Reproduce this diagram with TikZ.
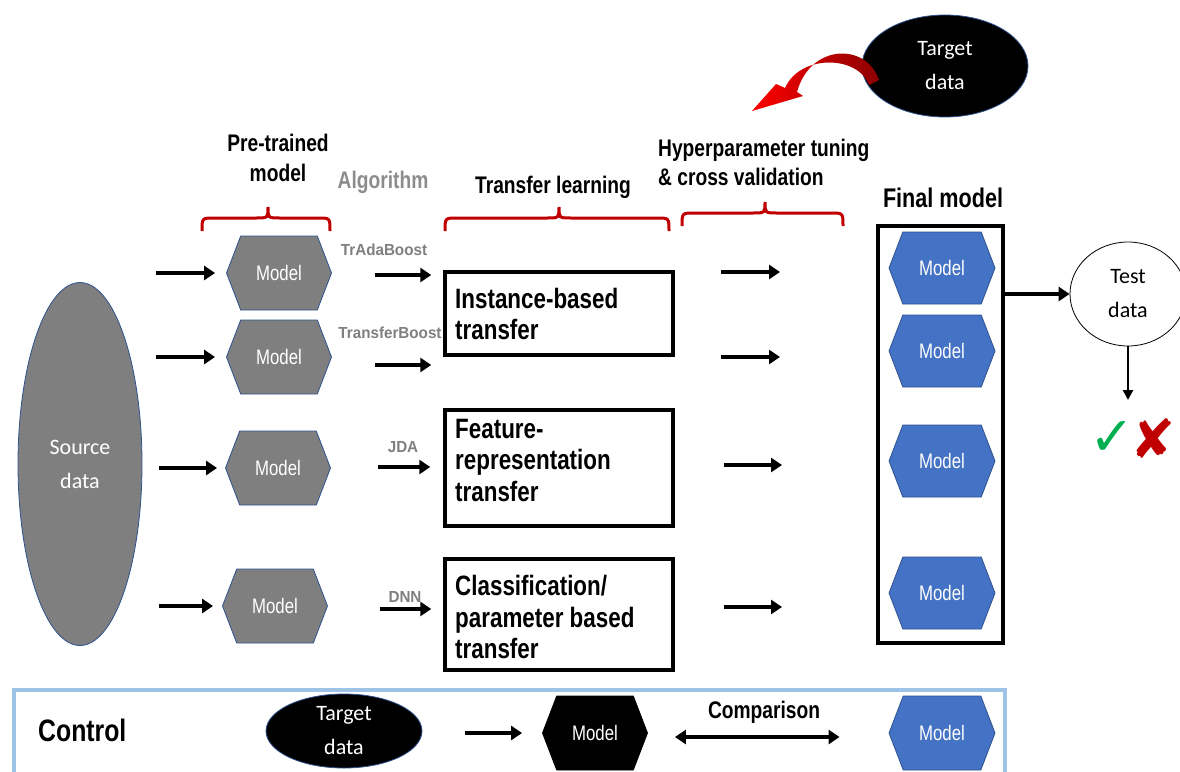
\documentclass[tikz,border=0pt]{standalone}
\usepackage{fontspec}
\setmainfont{Liberation Sans}
\newfontfamily\narrow[FakeStretch=0.8]{Liberation Sans}
\newfontfamily\semin[FakeStretch=0.95]{Liberation Sans}
\newfontfamily\calib{Carlito}
\newfontfamily\symb{DejaVu Sans}
\usetikzlibrary{arrows.meta,shapes.symbols,shapes.geometric}

\definecolor{hexgrey}{HTML}{7F7F7F}
\definecolor{edgeblue}{HTML}{2F528F}
\definecolor{modelblue}{HTML}{4472C4}
\definecolor{bracered}{HTML}{C00000}
\definecolor{algogrey}{HTML}{7F7F7F}
\definecolor{headgrey}{HTML}{8C8C8C}
\definecolor{ctrlblue}{HTML}{9DC3E6}
\definecolor{okgreen}{HTML}{00B050}
\definecolor{nored}{HTML}{C00000}

% curly brace opening downwards: left x, right x, tip x, tip y
\newcommand\stagebrace[4]{%
  \draw[bracepen] (#1,{#4+24}) .. controls (#1,{#4+11}) .. ({#1+12},{#4+11})
    -- ({#3-12},{#4+11}) .. controls (#3,{#4+11}) .. (#3,#4)
    .. controls (#3,{#4+11}) .. ({#3+12},{#4+11})
    -- ({#2-12},{#4+11}) .. controls (#2,{#4+11}) .. (#2,{#4+24});}

\begin{document}
\begin{tikzpicture}[x=1pt,y=-1pt,
  arr/.style={line width=4pt,-{Triangle[length=11pt,width=14pt]}},
  dblarr/.style={line width=4pt,{Triangle[length=11pt,width=14pt]}-{Triangle[length=11pt,width=14pt]}},
  smallarr/.style={line width=2.5pt,-{Triangle[length=10pt,width=10pt]}},
  hex/.style={shape=signal,signal to=east and west,signal pointer angle=138,
    minimum width=105pt,minimum height=74pt,inner sep=0pt,
    font=\narrow\fontsize{21}{25}\selectfont,text=white},
  greyhex/.style={hex,fill=hexgrey,draw=edgeblue,line width=0.8pt},
  bluehex/.style={hex,fill=modelblue,draw=edgeblue,line width=0.8pt,
    minimum width=106pt,minimum height=72pt},
  blackhex/.style={hex,fill=black,draw=black,line width=0.8pt},
  stagebox/.style={draw=black,line width=3.5pt,minimum width=228pt},
  boxtext/.style={inner sep=0pt,anchor=west,align=left,
    font=\narrow\bfseries\fontsize{28}{31.5}\selectfont},
  head/.style={inner sep=0pt,font=\narrow\bfseries\fontsize{24}{30}\selectfont},
  algo/.style={inner sep=0pt,text=algogrey,font=\semin\bfseries\fontsize{16}{19}\selectfont},
  dataell/.style={ellipse,inner sep=0pt,align=center,draw=edgeblue,line width=0.8pt,
    font=\calib\fontsize{22}{34}\selectfont},
  bracepen/.style={draw=bracered,line width=3pt}]

\useasboundingbox (0,0) rectangle (1180,771);

% ---------- source data and pre-trained models ----------
\node[dataell,fill=hexgrey,text=white,minimum width=124pt,minimum height=363pt] (src) at (80,464) {Source\\data};

\node[greyhex] (m1) at (279,273) {Model};
\node[greyhex] (m2) at (279,357) {Model};
\node[greyhex] (m3) at (278,468) {Model};
\node[greyhex] (m4) at (275,606) {Model};

\draw[arr] ([xshift=-70pt]m1.west) -- ([xshift=-11pt]m1.west);
\draw[arr] ([xshift=-70pt]m2.west) -- ([xshift=-11pt]m2.west);
\draw[arr] ([xshift=-66pt]m3.west) -- ([xshift=-8pt]m3.west);
\draw[arr] ([xshift=-63pt]m4.west) -- ([xshift=-9pt]m4.west);

% ---------- column headings ----------
\node[head,align=center] (hpre) at (278,158) {Pre-trained\\model};
\node[head,text=headgrey] (halg) at (383,182) {Algorithm};
\node[head] (htl) at (553,187) {Transfer learning};
\node[head,align=left,anchor=west,font=\narrow\bfseries\fontsize{24}{29}\selectfont] (hhyp) at (658,162) {Hyperparameter tuning\\\& cross validation};
\node[head,font=\narrow\bfseries\fontsize{27}{30}\selectfont] (hfin) at (943,197.5) {Final model};

\stagebrace{202}{330}{268}{207}
\stagebrace{445}{669}{559}{207}
\stagebrace{682}{843}{765}{202}

% ---------- transfer learning stages ----------
\node[stagebox,minimum height=83pt] (b1) at (559,313.5) {};
\node[stagebox,minimum height=116pt] (b2) at (559,468) {};
\node[stagebox,minimum height=111pt] (b3) at (559,614.5) {};
\node[boxtext] (t1) at (455,314) {Instance-based\\transfer};
\node[boxtext] (t2) at (455,460) {Feature-\\representation\\transfer};
\node[boxtext] (t3) at (455,617) {Classification/\\parameter based\\transfer};

\coordinate (a1) at (375,275);
\coordinate (a2) at (375,365);
\coordinate (a3) at (378,467);
\coordinate (a4) at (380,609);
\draw[arr,shorten >=12pt] (a1) -- (a1 -| b1.west);
\draw[arr,shorten >=12pt] (a2) -- (a2 -| b1.west);
\draw[arr,shorten >=13pt] (a3) -- (a3 -| b2.west);
\draw[arr,shorten >=12pt] (a4) -- (a4 -| b3.west);

\node[algo] (l1) at (384,250) {TrAdaBoost};
\node[algo] (l2) at (390,333) {TransferBoost};
\node[algo] (l3) at (403,447) {JDA};
\node[algo] (l4) at (405,597) {DNN};

% ---------- tuning step ----------
\coordinate (h1s) at (721,272); \coordinate (h1e) at (780,272);
\coordinate (h2s) at (721,357); \coordinate (h2e) at (780,357);
\coordinate (h3s) at (724,465); \coordinate (h3e) at (782,465);
\coordinate (h4s) at (724,607); \coordinate (h4e) at (782,607);
\draw[arr] (h1s) -- (h1e);
\draw[arr] (h2s) -- (h2e);
\draw[arr] (h3s) -- (h3e);
\draw[arr] (h4s) -- (h4e);

% ---------- target data feeding the tuning ----------
\node[dataell,fill=black,text=white,minimum width=166pt,minimum height=102pt] (tgt) at (945,66) {Target\\data};
\shade[left color=red,right color=red!55!black]
  (879,80) .. controls (866,42) and (810,44) .. (797,92) -- (803,96) -- (752,111)
  -- (776,84) -- (785,88) .. controls (800,54) and (858,55) .. (869,85) -- cycle;

% ---------- final models and testing ----------
\node[draw=black,line width=3.5pt,minimum width=125pt,minimum height=417pt] (fin) at (940.5,434.5) {};
\node[bluehex] (f1) at (942,268) {Model};
\node[bluehex] (f2) at (942,351) {Model};
\node[bluehex] (f3) at (942,461) {Model};
\node[bluehex] (f4) at (942,593) {Model};

\node[dataell,draw=black,fill=white,minimum width=116pt,minimum height=104pt] (test) at (1128,294) {Test\\data};
\draw[arr] (fin.east |- test.west) -- (test.west);
\coordinate (verdict) at (1128,400);
\draw[smallarr] (test.south) -- (verdict);
\node[inner sep=0pt,text=okgreen,font=\symb\fontsize{54}{54}\selectfont] (ok) at (1112,438) {✓};
\node[inner sep=0pt,text=nored,font=\symb\fontsize{54}{54}\selectfont] (no) at (1153,439) {✘};

% ---------- control ----------
\node[draw=ctrlblue,line width=4pt,minimum width=991pt,minimum height=100pt,anchor=north west] (ctrl) at (12,688) {};
\node[inner sep=0pt,anchor=west,font=\narrow\bfseries\fontsize{31}{34}\selectfont] (lctrl) at (38,730) {Control};
\node[dataell,fill=black,text=white,minimum width=156pt,minimum height=74pt] (ctgt) at (344,731) {Target\\data};
\node[blackhex] (cm) at (595,733) {Model};
\node[bluehex,minimum height=74pt] (cb) at (942,733) {Model};
\coordinate (cs) at ([xshift=43pt]ctgt.east);
\draw[arr] (cs |- cm.west) -- ([xshift=-20pt]cm.west);
\draw[dblarr] ([xshift=27pt,yshift=-4pt]cm.east) -- ([xshift=-49pt,yshift=-4pt]cb.west);
\node[head] (lcmp) at (764,712) {Comparison};

\end{tikzpicture}
\end{document}
